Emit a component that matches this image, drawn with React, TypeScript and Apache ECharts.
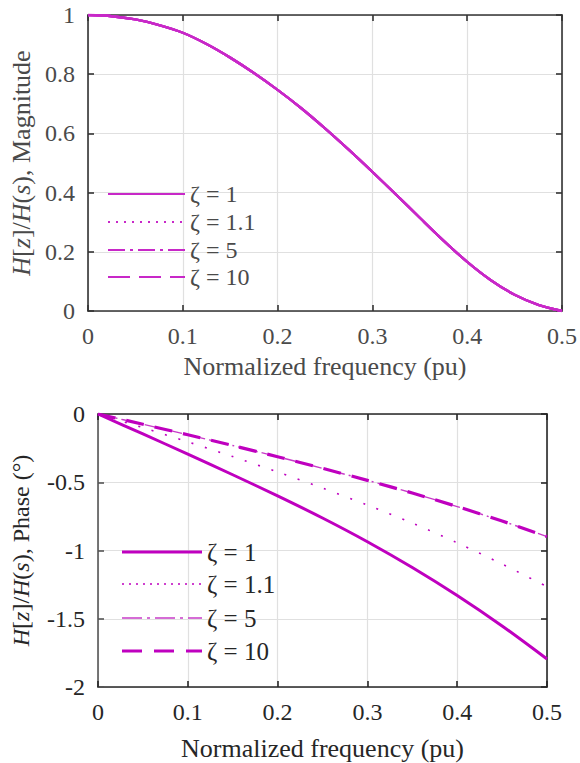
import React, { useEffect, useRef } from "react";
import * as echarts from "echarts";

// ---- data ----
const freqMag = [0, 0.025, 0.05, 0.075, 0.1, 0.125, 0.15, 0.175, 0.2, 0.225, 0.25, 0.275, 0.3, 0.325, 0.35, 0.375, 0.4, 0.425, 0.45, 0.475, 0.5];
const magnitude = [1, 0.996, 0.985, 0.966, 0.94, 0.902, 0.856, 0.804, 0.747, 0.685, 0.617, 0.545, 0.47, 0.393, 0.315, 0.238, 0.166, 0.104, 0.055, 0.021, 0];

const freqPhase = [0, 0.05, 0.1, 0.15, 0.2, 0.25, 0.3, 0.35, 0.4, 0.45, 0.5];
const phaseZeta1 = [0, -0.146, -0.294, -0.445, -0.6, -0.762, -0.936, -1.125, -1.33, -1.553, -1.795];
const phaseZeta11 = [0, -0.1, -0.204, -0.312, -0.425, -0.543, -0.667, -0.799, -0.944, -1.099, -1.265];
const phaseZeta5 = [0, -0.075, -0.152, -0.231, -0.313, -0.398, -0.486, -0.579, -0.678, -0.784, -0.898];
const phaseZeta10 = [0, -0.075, -0.152, -0.231, -0.313, -0.398, -0.486, -0.579, -0.678, -0.784, -0.898];

const seriesNames = ["ζ = 1", "ζ = 1.1", "ζ = 5", "ζ = 10"];
const xTicks = { min: 0, max: 0.5, interval: 0.1 };
const magTicks = { min: 0, max: 1, interval: 0.2 };
const phaseTicks = { min: -2, max: 0, interval: 0.5 };

const FONT = "Liberation Serif";
const MAG = "#c828c8";
const PH = "#bf00bf";
const TOPTXT = "#4a4a4a";
const BOTTXT = "#262626";

function pairs(xs: number[], ys: number[]) {
  return xs.map((x, i) => [x, ys[i]]);
}

export default function App() {
  const ref = useRef<HTMLDivElement>(null);
  useEffect(() => {
    if (!ref.current) return;
    const chart = echarts.init(ref.current, undefined, { renderer: "svg" });

    const mainX = (grid: number, color: string, axisColor: string, gap: number) => ({
      type: "value",
      gridIndex: grid,
      position: "bottom",
      ...xTicks,
      axisLine: { show: true, onZero: false, lineStyle: { color: axisColor, width: 1.6 } },
      axisTick: { show: true, inside: true, length: 6, lineStyle: { color: axisColor, width: 1.6 } },
      axisLabel: { color, fontFamily: FONT, fontSize: 24, margin: 13 },
      splitLine: { show: true, lineStyle: { color: "#e0e0e0", width: 1.2 } },
      name: "Normalized frequency (pu)",
      nameLocation: "middle",
      nameGap: gap,
      nameTextStyle: { color, fontFamily: FONT, fontSize: 26 },
    });
    const sideX = (grid: number, axisColor: string) => ({
      type: "value",
      gridIndex: grid,
      position: "top",
      ...xTicks,
      axisLine: { show: true, onZero: false, lineStyle: { color: axisColor, width: 1.6 } },
      axisTick: { show: true, inside: true, length: 6, lineStyle: { color: axisColor, width: 1.6 } },
      axisLabel: { show: false },
      splitLine: { show: false },
    });
    const rich = (color: string, size: number) => ({
      i: { fontStyle: "italic", fontFamily: FONT, fontSize: size, color },
      n: { fontFamily: FONT, fontSize: size, color },
    });
    const mainY = (grid: number, ticks: any, color: string, axisColor: string, name: string, gap: number, size: number) => ({
      type: "value",
      gridIndex: grid,
      position: "left",
      ...ticks,
      axisLine: { show: true, onZero: false, lineStyle: { color: axisColor, width: 1.6 } },
      axisTick: { show: true, inside: true, length: 6, lineStyle: { color: axisColor, width: 1.6 } },
      axisLabel: { color, fontFamily: FONT, fontSize: 24, margin: 13 },
      splitLine: { show: true, lineStyle: { color: "#e0e0e0", width: 1.2 } },
      name,
      nameLocation: "middle",
      nameGap: gap,
      nameTextStyle: { color, fontFamily: FONT, fontSize: size, rich: rich(color, size) },
    });
    const sideY = (grid: number, ticks: any, axisColor: string) => ({
      type: "value",
      gridIndex: grid,
      position: "right",
      ...ticks,
      axisLine: { show: true, onZero: false, lineStyle: { color: axisColor, width: 1.6 } },
      axisTick: { show: true, inside: true, length: 6, lineStyle: { color: axisColor, width: 1.6 } },
      axisLabel: { show: false },
      splitLine: { show: false },
    });

    const magSeries = seriesNames.map((name, k) => ({
      name,
      type: "line",
      xAxisIndex: 0,
      yAxisIndex: 0,
      data: pairs(freqMag, magnitude),
      smooth: 0.3,
      showSymbol: false,
      lineStyle: { color: MAG, width: 2.4, type: "solid" },
      z: 5 - k,
    }));

    const phaseData = [phaseZeta1, phaseZeta11, phaseZeta5, phaseZeta10];
    const phaseStyles: any[] = [
      { color: PH, width: 3, type: "solid" },
      { color: PH, width: 1.6, type: [2, 12] },
      { color: "#c83cc8", width: 1.4, type: [14, 4, 2, 4] },
      { color: PH, width: 3.2, type: [18, 11] },
    ];
    const phaseSeries = seriesNames.map((name, k) => ({
      name,
      type: "line",
      xAxisIndex: 2,
      yAxisIndex: 2,
      data: pairs(freqPhase, phaseData[k]),
      smooth: 0.3,
      showSymbol: false,
      lineStyle: phaseStyles[k],
      z: k === 2 ? 2 : 3,
    }));

    // legends (drawn as graphic items)
    const topLegendDash: any[] = [null, [2, 6], [17, 5, 3, 5], [22, 9]];
    const botLegendDash: any[] = [null, [2, 5], [20, 5, 3, 5], [20, 12]];
    const botLegendWidth = [3, 1.6, 1.6, 3];
    const topRows = [194, 222, 250, 277];
    const botRows = [552, 584, 618, 651];
    const graphics: any[] = [];
    seriesNames.forEach((name, k) => {
      graphics.push({
        type: "line",
        shape: { x1: 108, y1: topRows[k], x2: 185, y2: topRows[k] },
        style: { stroke: MAG, lineWidth: 2, lineDash: topLegendDash[k] || undefined },
        z: 100,
      });
      graphics.push({
        type: "text",
        x: 190,
        y: topRows[k],
        style: { text: name, fontFamily: FONT, fontSize: 24, fill: TOPTXT, verticalAlign: "middle", align: "left" },
        z: 100,
      });
      graphics.push({
        type: "line",
        shape: { x1: 122, y1: botRows[k], x2: 202, y2: botRows[k] },
        style: { stroke: k === 2 ? "#c83cc8" : PH, lineWidth: botLegendWidth[k], lineDash: botLegendDash[k] || undefined },
        z: 100,
      });
      graphics.push({
        type: "text",
        x: 207,
        y: botRows[k],
        style: { text: name, fontFamily: FONT, fontSize: 25, fill: BOTTXT, verticalAlign: "middle", align: "left" },
        z: 100,
      });
    });

    chart.setOption({
      animation: false,
      backgroundColor: "#ffffff",
      textStyle: { fontFamily: FONT },
      grid: [
        { left: 83, top: 15, width: 480, height: 296 },
        { left: 98, top: 414, width: 449, height: 273 },
      ],
      xAxis: [mainX(0, TOPTXT, "#333333", 42), sideX(0, "#333333"), mainX(1, BOTTXT, "#262626", 48), sideX(1, "#262626")],
      yAxis: [
        mainY(0, magTicks, TOPTXT, "#333333", "{i|H}{n|[}{i|z}{n|]/}{i|H}{n|(}{i|s}{n|), Magnitude}", 54, 26),
        sideY(0, magTicks, "#333333"),
        mainY(1, phaseTicks, BOTTXT, "#555555", "{i|H}{n|[}{i|z}{n|]/}{i|H}{n|(}{i|s}{n|), Phase (°)}", 65, 24),
        sideY(1, phaseTicks, "#262626"),
      ],
      series: [...magSeries, ...phaseSeries],
      graphic: graphics,
    });
    return () => chart.dispose();
  }, []);
  return <div ref={ref} style={{ position: "fixed", left: 0, top: 0, width: 580, height: 763 }} />;
}
